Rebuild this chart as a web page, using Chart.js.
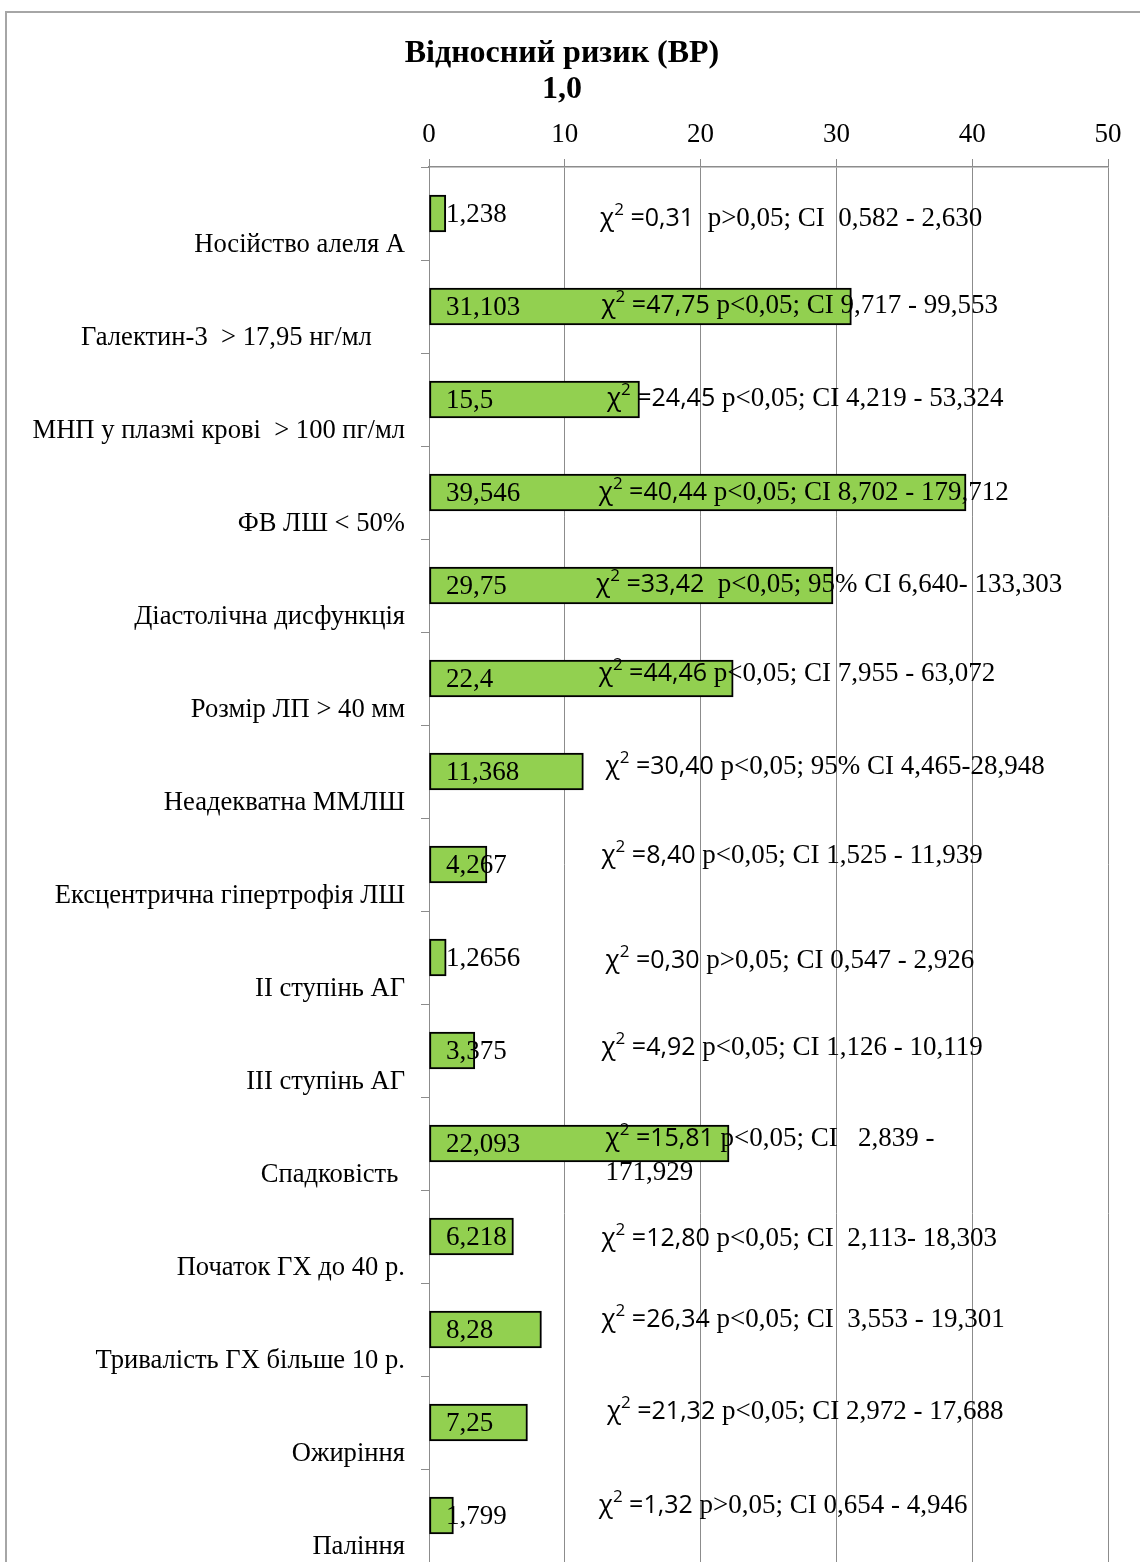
<!DOCTYPE html>
<html>
<head>
<meta charset="utf-8">
<script src="https://cdn.jsdelivr.net/npm/chart.js@4/dist/chart.umd.min.js"></script>
<style>
    html, body { margin: 0; padding: 0; background: #fff; overflow: hidden; }
    #wrap { position: relative; width: 1140px; height: 1562px; }
    #frame { position: absolute; left: 5px; top: 11px; width: 2000px; height: 2000px;
             border-left: 2px solid #a6a6a6; border-top: 2px solid #a6a6a6; }
    #chart { position: absolute; left: 0; top: 0; }
</style>
</head>
<body>
<div id="wrap">
    <div id="frame"></div>
    <canvas id="chart" width="1140" height="1562"></canvas>
</div>
<script>
var categories = [
    'Носійство алеля А',
    'Галектин-3  > 17,95 нг/мл     ',
    'МНП у плазмі крові  > 100 пг/мл',
    'ФВ ЛШ < 50%',
    'Діастолічна дисфункція',
    'Розмір ЛП > 40 мм',
    'Неадекватна ММЛШ',
    'Ексцентрична гіпертрофія ЛШ',
    'ІІ ступінь АГ',
    'ІІІ ступінь АГ',
    'Спадковість ',
    'Початок ГХ до 40 р.',
    'Тривалість ГХ більше 10 р.',
    'Ожиріння',
    'Паління'
];
var riskValues = [1.238, 31.103, 15.5, 39.546, 29.75, 22.4, 11.368, 4.267, 1.2656, 3.375, 22.093, 6.218, 8.28, 7.25, 1.799];
var chiValues = ['0,31', '47,75', '24,45', '40,44', '33,42', '44,46', '30,40', '8,40', '0,30', '4,92', '15,81', '12,80', '26,34', '21,32', '1,32'];
var pTexts = [
    '  p>0,05; CI  0,582 - 2,630',
    ' p<0,05; CI 9,717 - 99,553',
    ' p<0,05; CI 4,219 - 53,324',
    ' p<0,05; CI 8,702 - 179,712',
    '  p<0,05; 95% CI 6,640- 133,303',
    ' p<0,05; CI 7,955 - 63,072',
    ' p<0,05; 95% CI 4,465-28,948',
    ' p<0,05; CI 1,525 - 11,939',
    ' p>0,05; CI 0,547 - 2,926',
    ' p<0,05; CI 1,126 - 10,119',
    ' p<0,05; CI   2,839 -',
    ' p<0,05; CI  2,113- 18,303',
    ' p<0,05; CI  3,553 - 19,301',
    ' p<0,05; CI 2,972 - 17,688',
    ' p>0,05; CI 0,654 - 4,946'
];
var pWrap = ['', '', '', '', '', '', '', '', '', '', '171,929', '', '', '', ''];
var xTicks = [0, 10, 20, 30, 40, 50];

// where each text box sits (axis units along x, pixels from bar centre along y)
var noteAt = [12.6, 12.7, 13.1, 12.5, 12.3, 12.5, 13.0, 12.7, 13.0, 12.7, 13.0, 12.7, 12.7, 13.1, 12.5];
var noteDy = [5, -1, -1, 0, -1, -5, -5, -9, 3, -3, -5, 2, -10, -11, -10];

var SERIF = '"Liberation Serif", "Times New Roman", serif';
var SANS = '"Open Sans", "Noto Sans", sans-serif';

var valueLabels = {
    id: 'valueLabels',
    afterDatasetsDraw: function(chart) {
        var ctx = chart.ctx;
        var meta = chart.getDatasetMeta(0);
        ctx.save();
        ctx.fillStyle = '#000';
        ctx.textBaseline = 'middle';
        ctx.textAlign = 'left';
        ctx.font = '27px ' + SERIF;
        meta.data.forEach(function(bar, i) {
            var txt = String(riskValues[i]).replace('.', ',');
            ctx.fillText(txt, chart.chartArea.left + 17, bar.y + 1);
        });
        ctx.restore();
    }
};

var chiNotes = {
    id: 'chiNotes',
    afterDatasetsDraw: function(chart) {
        var ctx = chart.ctx;
        var xs = chart.scales.x;
        var meta = chart.getDatasetMeta(0);
        ctx.save();
        ctx.fillStyle = '#000';
        ctx.textBaseline = 'middle';
        ctx.textAlign = 'left';
        meta.data.forEach(function(bar, i) {
            var x = xs.getPixelForValue(noteAt[i]);
            var y = bar.y + noteDy[i];
            ctx.font = '26px ' + SANS;
            ctx.fillText('χ', x, y);
            x += ctx.measureText('χ').width;
            ctx.font = '17px ' + SANS;
            ctx.fillText('2', x, y - 8);
            x += ctx.measureText('2').width;
            ctx.font = '25px ' + SANS;
            var s = ' =' + chiValues[i];
            ctx.fillText(s, x, y);
            x += ctx.measureText(s).width;
            ctx.font = '27px ' + SERIF;
            ctx.fillText(pTexts[i], x, y);
            if (pWrap[i]) {
                ctx.fillText(pWrap[i], xs.getPixelForValue(noteAt[i]), y + 34);
            }
        });
        ctx.restore();
    }
};

new Chart(document.getElementById('chart').getContext('2d'), {
    type: 'bar',
    data: {
        labels: categories,
        datasets: [{
            data: riskValues,
            backgroundColor: '#92d050',
            borderColor: '#000',
            borderWidth: 2,
            borderSkipped: false,
            barThickness: 37
        }]
    },
    options: {
        indexAxis: 'y',
        responsive: false,
        animation: false,
        layout: { padding: { left: 16, right: 32, top: 0, bottom: 0 } },
        plugins: {
            legend: { display: false },
            tooltip: { enabled: false },
            title: {
                display: true,
                text: ['Відносний ризик (ВР)', '1,0'],
                color: '#000',
                font: { family: SERIF, size: 32, weight: 'bold', lineHeight: 1.125 },
                padding: { top: 36, bottom: 0 }
            }
        },
        scales: {
            x: {
                position: 'top',
                min: 0,
                max: 50,
                afterBuildTicks: function(scale) {
                    scale.ticks = xTicks.map(function(v) { return { value: v }; });
                },
                afterFit: function(scale) { scale.height = 59; },
                ticks: { color: '#000', padding: 8, font: { family: SERIF, size: 27 } },
                grid: { color: '#8c8c8c', lineWidth: 1, tickLength: 8 },
                border: { color: '#8c8c8c', width: 1.5 }
            },
            y: {
                afterFit: function(scale) {
                    scale.width = 413;
                    scale.paddingTop = 0;
                    scale.paddingBottom = 0;
                },
                ticks: { color: '#000', padding: 16, labelOffset: 32, font: { family: SERIF, size: 26.6 } },
                grid: { drawOnChartArea: false, offset: true, tickLength: 8, color: '#8c8c8c' },
                border: { color: '#8c8c8c', width: 1 }
            }
        }
    },
    plugins: [valueLabels, chiNotes]
});
</script>
</body>
</html>
